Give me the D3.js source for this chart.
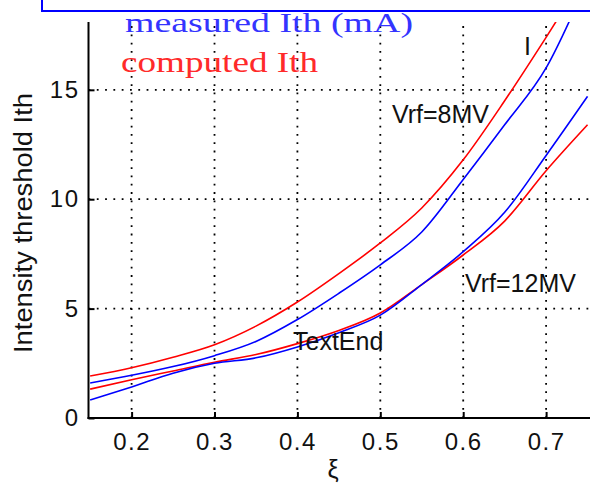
<!DOCTYPE html>
<html>
<head>
<meta charset="utf-8">
<script src="https://cdn.jsdelivr.net/npm/d3@7"></script>
<style>
  body { margin: 0; background: #fff; }
  svg { display: block; }
</style>
</head>
<body>
<script>
// xi values along the x axis
const xi = [0.15, 0.2, 0.25, 0.3, 0.35, 0.4, 0.45, 0.5, 0.55, 0.6, 0.65, 0.7, 0.75];

// Vrf = 8MV
const computed8 = [1.92, 2.3, 2.78, 3.35, 4.2, 5.3, 6.6, 8.0, 9.6, 11.8, 14.5, 17.4, 20.4];
const measured8 = [1.6, 1.95, 2.35, 2.85, 3.5, 4.5, 5.7, 7.0, 8.5, 10.9, 13.4, 16.0, 20.0];
// Vrf = 12MV
const computed12 = [1.32, 1.75, 2.15, 2.55, 2.9, 3.4, 4.0, 4.8, 6.1, 7.45, 9.0, 11.3, 13.4];
const measured12 = [0.82, 1.42, 2.05, 2.5, 2.75, 3.25, 3.9, 4.7, 6.1, 7.6, 9.4, 12.0, 14.7];

const xTicks = [0.2, 0.3, 0.4, 0.5, 0.6, 0.7];
const yTicks = [0, 5, 10, 15];

const series = [
  { values: computed8, color: "#ff0000" },
  { values: measured8, color: "#0000ff" },
  { values: computed12, color: "#ff0000" },
  { values: measured12, color: "#0000ff" }
];

const svgWidth = 590;
const svgHeight = 486;
const sansFont = "'Liberation Sans', Arial, sans-serif";

var svg = d3.select("body")
  .append("svg")
  .attr("width", svgWidth)
  .attr("height", svgHeight);

var x = d3.scaleLinear().domain([0.148, 0.755]).range([88.5, 591.7]);
var y = d3.scaleLinear().domain([0, 18.1]).range([418, 22]);

const plotLeft = 88.5, plotRight = 590, plotTop = 22, plotBottom = 418;

svg.append("defs").append("clipPath")
  .attr("id", "plotclip")
  .append("rect")
  .attr("x", plotLeft)
  .attr("y", plotTop)
  .attr("width", plotRight - plotLeft)
  .attr("height", plotBottom - plotTop);

// dotted grid
var grid = svg.append("g").attr("class", "grid");
grid.selectAll("line.vx")
  .data(xTicks)
  .enter()
  .append("line")
  .attr("x1", d => x(d))
  .attr("x2", d => x(d))
  .attr("y1", plotBottom)
  .attr("y2", plotTop)
  .attr("stroke", "#000")
  .attr("stroke-width", 1.8)
  .attr("stroke-dasharray", "1.8,6.5");
grid.selectAll("line.hy")
  .data(yTicks.filter(d => d > 0))
  .enter()
  .append("line")
  .attr("x1", plotLeft)
  .attr("x2", plotRight)
  .attr("y1", d => y(d))
  .attr("y2", d => y(d))
  .attr("stroke", "#000")
  .attr("stroke-width", 1.8)
  .attr("stroke-dasharray", "1.8,6.5");

// curves
var line = d3.line()
  .x((d, i) => x(xi[i]))
  .y(d => y(d))
  .curve(d3.curveMonotoneX);

svg.append("g")
  .attr("clip-path", "url(#plotclip)")
  .selectAll("path")
  .data(series)
  .enter()
  .append("path")
  .attr("d", d => line(d.values))
  .attr("fill", "none")
  .attr("stroke", d => d.color)
  .attr("stroke-width", 1.6);

// axes
var xAxis = svg.append("g")
  .attr("transform", "translate(0," + plotBottom + ")")
  .call(d3.axisBottom(x).tickValues(xTicks).tickFormat(d3.format(".1f"))
    .tickSizeInner(-6).tickSizeOuter(0).tickPadding(15));
var yAxis = svg.append("g")
  .attr("transform", "translate(" + plotLeft + ",0)")
  .call(d3.axisLeft(y).tickValues(yTicks).tickFormat(d3.format("d"))
    .tickSizeInner(-6).tickSizeOuter(0).tickPadding(9));

[xAxis, yAxis].forEach(function (a) {
  a.select(".domain").remove();
  a.selectAll(".tick line").attr("stroke", "#000").attr("stroke-width", 2);
  a.selectAll(".tick text")
    .attr("fill", "#111")
    .style("font-family", sansFont)
    .style("font-size", "24px")
    .style("letter-spacing", "1.5px");
});

svg.append("line")
  .attr("x1", plotLeft).attr("x2", plotLeft)
  .attr("y1", plotTop).attr("y2", plotBottom + 1)
  .attr("stroke", "#000").attr("stroke-width", 2);
svg.append("line")
  .attr("x1", plotLeft - 1).attr("x2", plotRight)
  .attr("y1", plotBottom).attr("y2", plotBottom)
  .attr("stroke", "#000").attr("stroke-width", 2);

// axis labels
svg.append("text")
  .attr("x", 333)
  .attr("y", 478)
  .attr("text-anchor", "middle")
  .style("font-family", sansFont)
  .style("font-size", "25px")
  .attr("fill", "#111")
  .text("ξ");

svg.append("text")
  .attr("transform", "translate(32,223) rotate(-90)")
  .attr("text-anchor", "middle")
  .attr("textLength", 260)
  .attr("lengthAdjust", "spacingAndGlyphs")
  .style("font-family", sansFont)
  .style("font-size", "26px")
  .attr("fill", "#111")
  .text("Intensity threshold Ith");

// annotations
function note(tx, ty, str) {
  svg.append("text")
    .attr("x", tx)
    .attr("y", ty)
    .style("font-family", sansFont)
    .style("font-size", "25px")
    .attr("fill", "#111")
    .text(str);
}
note(392, 123, "Vrf=8MV");
note(465, 292, "Vrf=12MV");
note(293, 350, "TextEnd");
note(524, 55, "I");

// legend texts
svg.append("text")
  .attr("x", 125)
  .attr("y", 32)
  .attr("textLength", 288)
  .attr("lengthAdjust", "spacingAndGlyphs")
  .style("font-family", "'Liberation Serif', 'Times New Roman', serif")
  .style("font-size", "28px")
  .attr("fill", "#3434ff")
  .text("measured Ith (mA)");
svg.append("text")
  .attr("x", 121)
  .attr("y", 72)
  .attr("textLength", 197)
  .attr("lengthAdjust", "spacingAndGlyphs")
  .style("font-family", "'Liberation Serif', 'Times New Roman', serif")
  .style("font-size", "30px")
  .attr("fill", "#ff2a2a")
  .text("computed Ith");

// box at the top edge
svg.append("rect")
  .attr("x", 42)
  .attr("y", -10)
  .attr("width", 560)
  .attr("height", 21)
  .attr("fill", "#fff")
  .attr("stroke", "#0000ff")
  .attr("stroke-width", 2);
</script>
</body>
</html>
